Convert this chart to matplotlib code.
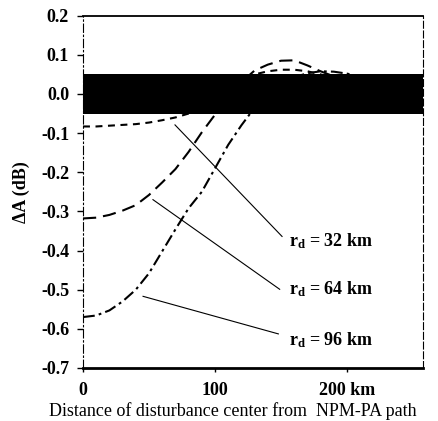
import matplotlib
matplotlib.use("Agg")
import matplotlib.pyplot as plt

plt.rcParams['font.family'] = ['Liberation Serif', 'DejaVu Serif']
plt.rcParams['mathtext.fontset'] = 'custom'
plt.rcParams['mathtext.rm'] = 'Liberation Serif:bold'
plt.rcParams['mathtext.it'] = 'Liberation Serif:bold'
plt.rcParams['lines.scale_dashes'] = False

# Data (km, dB)
x_km = [0, 10, 20, 30, 40, 50, 60, 70, 80, 90, 100, 110, 120, 130, 140, 150,
        160, 170, 180, 190, 200, 210, 220, 230, 240, 250, 258]
rd32 = [-0.083, -0.083, -0.081, -0.079, -0.077, -0.073, -0.067, -0.060, -0.050,
        -0.036, -0.018, 0.005, 0.030, 0.050, 0.058, 0.062, 0.062, 0.058, 0.050,
        0.040, 0.030, 0.022, 0.016, 0.011, 0.008, 0.006, 0.005]
rd64 = [-0.318, -0.316, -0.309, -0.298, -0.284, -0.258, -0.226, -0.192, -0.148,
        -0.098, -0.053, -0.008, 0.030, 0.060, 0.075, 0.085, 0.086, 0.073, 0.058,
        0.045, 0.032, 0.022, 0.015, 0.010, 0.007, 0.005, 0.004]
rd96 = [-0.570, -0.566, -0.553, -0.530, -0.500, -0.458, -0.402, -0.346, -0.292,
        -0.250, -0.190, -0.130, -0.080, -0.035, 0.000, 0.025, 0.043, 0.053, 0.058,
        0.057, 0.052, 0.045, 0.036, 0.027, 0.020, 0.014, 0.010]

labels = [r'r$_\mathrm{d}$ = 32 km', r'r$_\mathrm{d}$ = 64 km', r'r$_\mathrm{d}$ = 96 km']
# annotation: (start x, start y) on curve -> (end x, end y); text position
ann_start = [(69.7, -0.079), (53.0, -0.270), (45.5, -0.517)]
ann_end = [(150.8, -0.364), (149.0, -0.499), (148.0, -0.613)]
text_pos = [(156, -0.377), (156, -0.499), (156, -0.630)]

xticks = [0, 100, 200]
xticklabels = ['0', '100', '200 km']
yticks = [0.2, 0.1, 0.0, -0.1, -0.2, -0.3, -0.4, -0.5, -0.6, -0.7]

FS = 13

fig = plt.figure(figsize=(4.38, 4.21), dpi=100)
ax = fig.add_axes([0.1895, 0.126, 0.7763, 0.8367])

ax.plot(x_km, rd32, color='black', lw=1.5, linestyle=(0, (5, 4)), zorder=2)
ax.plot(x_km, rd64, color='black', lw=1.5, linestyle=(0, (9.5, 5)), zorder=2)
ax.plot(x_km, rd96, color='black', lw=1.5, linestyle=(0, (8.5, 3, 2, 3)), zorder=2)

ax.axhspan(-0.05, 0.05, color='black', zorder=3, lw=0)

for (sx, sy), (ex, ey), (tx, ty), lab in zip(ann_start, ann_end, text_pos, labels):
    ax.plot([sx, ex], [sy, ey], color='black', lw=0.8, zorder=4)
    ax.text(tx, ty, lab, fontsize=FS, fontweight='bold', va='center', ha='left')

ax.set_xlim(0, 257.6)
ax.set_ylim(-0.7, 0.2)
ax.set_xticks(xticks)
ax.set_xticklabels(xticklabels, fontsize=FS, fontweight='bold')
ax.set_yticks(yticks)
ax.set_yticklabels([f'{v:.1f}' for v in yticks], fontsize=FS, fontweight='bold')
ax.tick_params(axis='y', direction='out', length=4, width=1, pad=6)
ax.tick_params(axis='x', direction='out', length=3, width=1, pad=7)

ax.spines['top'].set_linewidth(1.3)
ax.spines['bottom'].set_linewidth(2)
ax.spines['left'].set_linewidth(0.8)
ax.spines['left'].set_linestyle((0, (6, 2, 1, 2)))
ax.spines['right'].set_linewidth(0.8)
ax.spines['right'].set_linestyle((0, (5, 2)))

ax.set_ylabel('ΔA (dB)', fontsize=FS, fontweight='bold')
ax.yaxis.set_label_coords(-0.157, 0.5)
ax.set_xlabel('Distance of disturbance center from  NPM-PA path', fontsize=FS)
ax.xaxis.label.set_va('center')
ax.xaxis.set_label_coords(0.441, -0.121)

fig.savefig('out.png', dpi=100)
